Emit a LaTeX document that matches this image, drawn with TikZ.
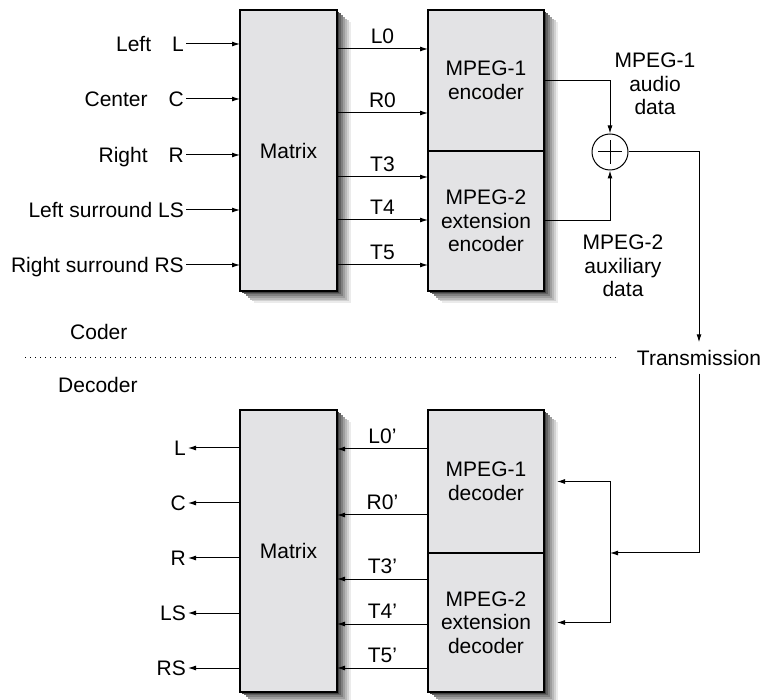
\documentclass[tikz,border=0pt]{standalone}
\usepackage{fontspec}
\setmainfont{Liberation Sans}
\usetikzlibrary{arrows.meta,positioning,shadows}
\definecolor{blockfill}{HTML}{E3E3E5}

\begin{document}
\begin{tikzpicture}[x=1pt, y=-1pt, >={Latex[length=8pt,width=5pt]},
  every node/.style={font=\fontsize{21}{23.5}\selectfont, align=center},
  blockshade/.style={
    general shadow={shadow xshift=14pt, shadow yshift=-12pt, fill=black!8},
    general shadow={shadow xshift=12pt, shadow yshift=-10.3pt, fill=black!18},
    general shadow={shadow xshift=10pt, shadow yshift=-8.6pt, fill=black!28},
    general shadow={shadow xshift=8pt, shadow yshift=-6.9pt, fill=black!38},
    general shadow={shadow xshift=6pt, shadow yshift=-5.1pt, fill=black!50},
    general shadow={shadow xshift=4pt, shadow yshift=-3.4pt, fill=black!62},
    general shadow={shadow xshift=2pt, shadow yshift=-1.7pt, fill=black!75}},
  block/.style={draw, line width=1.8pt, fill=blockfill, inner sep=0pt, outer sep=0pt, minimum width=97pt, blockshade},
  codec/.style={minimum width=116pt},
  lbl/.style={inner sep=2pt, text height=15pt, text depth=0pt},
  flow/.style={->, line width=1pt}]
\useasboundingbox (0,0) rectangle (761,700);

% coder side
\node[block, minimum height=281pt] (mtxA) at (288.5,150.5) {Matrix};
\node[block, codec, minimum height=141pt, anchor=north west] (enc1) at ([xshift=91pt]mtxA.north east) {MPEG-1\\encoder};
\node[block, codec, minimum height=140pt, below=0pt of enc1] (enc2) {MPEG-2\\extension\\encoder};

\foreach \y/\nm/\txt in {44/L/{Left\quad L},99/C/{Center\quad C},155/R/{Right\quad R},210/LS/{Left surround LS},265/RS/{Right surround RS}}{
  \node[lbl, anchor=east] (in\nm) at (186,\y) {\txt};
  \draw[flow] (in\nm.east) -- (in\nm.east -| mtxA.west);
}
\foreach \y/\nm in {49/L0,113/R0,177/T3,220/T4,265/T5}
  \draw[flow] (mtxA.east |- 0,\y) -- node[lbl, above=3pt] (lab\nm) {\nm} (enc1.west |- 0,\y);

\node[draw, circle, line width=1pt, minimum size=36pt, inner sep=0pt] (sum) at (610,152) {};
\draw[line width=1pt] ([xshift=-12pt]sum.center) -- ([xshift=12pt]sum.center)
  ([yshift=-12pt]sum.center) -- ([yshift=12pt]sum.center);
\draw[flow] (enc1.east) -| (sum.north);
\draw[flow] (enc2.east) -| (sum.south);
\node (audio) at (655,84) {MPEG-1\\audio\\data};
\node (aux) at (623,266) {MPEG-2\\auxiliary\\data};

% transmission
\node[lbl, inner ysep=8pt] (trans) at (699,358) {Transmission};
\draw[flow] (sum.east) -| (trans.north);
\node[lbl, anchor=west] (coder) at (68,332) {Coder};
\node[lbl, anchor=west] (decoder) at (56,385) {Decoder};
\coordinate (cutL) at (25,358);
\draw[line width=1pt, dash pattern=on 1.2pt off 3.8pt] (cutL) -- ([xshift=-16pt]trans.west);

% decoder side
\node[block, minimum height=282pt] (mtxB) at (288.5,551) {Matrix};
\node[block, codec, minimum height=143pt, anchor=north west] (dec1) at ([xshift=91pt]mtxB.north east) {MPEG-1\\decoder};
\node[block, codec, minimum height=139pt, below=0pt of dec1] (dec2) {MPEG-2\\extension\\decoder};

\coordinate (fork) at (610,553);
\draw[flow] (trans.south) |- (fork);
\draw[line width=1pt] (fork |- dec1.east) -- (fork |- dec2.east);
\draw[flow] (fork |- dec1.east) -- ([xshift=13pt]dec1.east);
\draw[flow] (fork |- dec2.east) -- ([xshift=13pt]dec2.east);

\foreach \y/\nm in {449/L0,515/R0,579/T3,624/T4,668/T5}
  \draw[flow] (dec1.west |- 0,\y) -- node[lbl, above=3pt] (labB\nm) {\nm'} (mtxB.east |- 0,\y);
\foreach \y/\nm in {448/L,503/C,558/R,613/LS,668/RS}{
  \node[lbl, anchor=east] (out\nm) at (188,\y) {\nm};
  \draw[flow] (out\nm.east -| mtxB.west) -- (out\nm.east);
}
\end{tikzpicture}
\end{document}
